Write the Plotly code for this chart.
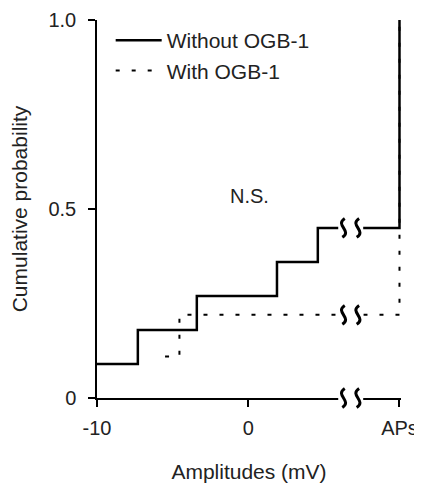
import plotly.graph_objects as go

# Data
without_x = [-10, -7.3, -3.4, 1.9, 4.6, 10]   # 10 == "APs"
without_y = [0.09, 0.18, 0.27, 0.36, 0.45, 1.0]
with_x = [-5.5, -4.55, 10]
with_y = [0.11, 0.22, 1.0]

x_tickvals = [-10, 0, 10]
x_ticktext = ["-10", "0", "APs"]
y_tickvals = [0, 0.5, 1.0]
y_ticktext = ["0", "0.5", "1.0"]

break_levels = [0.45, 0.22, 0.0]
break_marks = [6.3, 7.25]
break_span = [5.95, 7.6]

FONT = "Liberation Sans, Arial, sans-serif"
TXT = "#222222"

fig = go.Figure()
fig.add_trace(go.Scatter(
    x=with_x, y=with_y, mode="lines", name="With OGB-1",
    line=dict(shape="hv", color="black", width=2, dash="4px,12px"),
    legendrank=2,
))
fig.add_trace(go.Scatter(
    x=without_x, y=without_y, mode="lines", name="Without OGB-1",
    line=dict(shape="hv", color="black", width=2.5),
    legendrank=1,
))

shapes = []
hy = 0.025
for lv in break_levels:
    shapes.append(dict(type="rect", xref="x", yref="paper",
                       x0=break_span[0], x1=break_span[1], y0=lv - hy, y1=lv + hy,
                       fillcolor="white", line=dict(width=0), layer="above"))
    for cx in break_marks:
        path = (f"M{cx + 0.08},{lv + hy} C{cx - 0.6},{lv + 0.3 * hy} "
                f"{cx + 0.6},{lv - 0.3 * hy} {cx - 0.08},{lv - hy}")
        shapes.append(dict(type="path", xref="x", yref="paper", path=path,
                           line=dict(color="black", width=3), layer="above"))

# the page body adds an 8px offset, so the figure is 8px smaller on each side
fig.update_layout(
    width=414, height=480,
    margin=dict(l=89, r=21, t=12, b=90),
    paper_bgcolor="white", plot_bgcolor="white",
    font=dict(family=FONT, size=20, color=TXT),
    showlegend=True,
    legend=dict(x=0.045, y=1.0, xanchor="left", yanchor="top",
                font=dict(size=21, color=TXT), bgcolor="rgba(0,0,0,0)",
                itemwidth=46, tracegroupgap=0),
    shapes=shapes,
    annotations=[dict(x=0.07, y=0.534, xref="x", yref="y", text="N.S.",
                      showarrow=False, font=dict(size=20, color=TXT))],
)
fig.update_xaxes(
    range=[-10, 10.1], tickvals=x_tickvals, ticktext=x_ticktext,
    showline=True, linecolor="black", linewidth=1.5,
    ticks="outside", ticklen=7, tickwidth=1.5, tickcolor="black",
    showgrid=False, zeroline=False, ticklabelstandoff=4, automargin=False,
    tickfont=dict(size=20, color=TXT),
    title=dict(text="Amplitudes (mV)", font=dict(size=21, color=TXT), standoff=27),
)
fig.update_yaxes(
    range=[0, 1.0], tickvals=y_tickvals, ticktext=y_ticktext,
    showline=True, linecolor="black", linewidth=1.5,
    ticks="outside", ticklen=7, tickwidth=1.5, tickcolor="black",
    showgrid=False, zeroline=False, ticklabelstandoff=8, automargin=False,
    tickfont=dict(size=20, color=TXT),
    title=dict(text="Cumulative probability", font=dict(size=21, color=TXT), standoff=17),
)

fig.write_html("out.html")
